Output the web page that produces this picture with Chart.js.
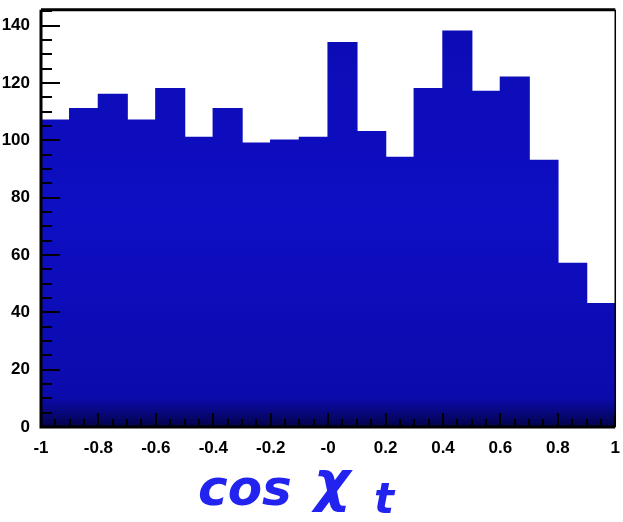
<!DOCTYPE html>
<html>
<head>
    <meta charset="UTF-8">
    <script src="https://cdn.jsdelivr.net/npm/chart.js"></script>
    <style>
        html, body { margin: 0; padding: 0; background: #fff; }
        .chart-container { width: 623px; height: 522px; }
    </style>
</head>
<body>
    <div class="chart-container">
        <canvas id="histChart"></canvas>
    </div>

    <script>
        // 20 bins of cos(chi_t), width 0.1, from -1 to 1
        const binLabels = ['-0.95', '-0.85', '-0.75', '-0.65', '-0.55', '-0.45', '-0.35', '-0.25', '-0.15', '-0.05',
                           '0.05', '0.15', '0.25', '0.35', '0.45', '0.55', '0.65', '0.75', '0.85', '0.95'];
        const binCounts = [107, 111, 116, 107, 118, 101, 111, 99, 100, 101,
                           134, 103, 94, 118, 138, 117, 122, 93, 57, 43];
        const xTickLabels = ['-1', '-0.8', '-0.6', '-0.4', '-0.2', '-0', '0.2', '0.4', '0.6', '0.8', '1'];
        const yTickLabels = ['0', '20', '40', '60', '80', '100', '120', '140'];

        // ROOT style ticks drawn inward over the bars, plus the frame and axis title
        const framePlugin = {
            id: 'frame',
            afterDatasetsDraw(chart) {
                const ctx = chart.ctx;
                const a = chart.chartArea;
                const xs = chart.scales.xAxis, ys = chart.scales.y;
                ctx.save();
                ctx.strokeStyle = '#000';
                ctx.lineWidth = 2;
                xs.ticks.forEach(t => {
                    const k = Math.round(t.value * 20);
                    const len = (k % 4 === 0) ? 14 : 8;
                    const px = Math.round(xs.getPixelForValue(t.value));
                    ctx.beginPath();
                    ctx.moveTo(px, a.bottom);
                    ctx.lineTo(px, a.bottom - len);
                    ctx.stroke();
                });
                ys.ticks.forEach(t => {
                    const len = (Math.round(t.value) % 20 === 0) ? 19 : 11;
                    const py = Math.round(ys.getPixelForValue(t.value));
                    ctx.beginPath();
                    ctx.moveTo(a.left, py);
                    ctx.lineTo(a.left + len, py);
                    ctx.stroke();
                });
                // frame
                ctx.lineWidth = 3;
                ctx.beginPath();
                ctx.moveTo(a.left, a.top);
                ctx.lineTo(a.right, a.top);
                ctx.moveTo(a.left, a.top);
                ctx.lineTo(a.left, a.bottom);
                ctx.lineTo(a.right, a.bottom);
                ctx.stroke();
                ctx.lineWidth = 1.5;
                ctx.beginPath();
                ctx.moveTo(a.right, a.top);
                ctx.lineTo(a.right, a.bottom);
                ctx.stroke();

                // axis title "cos χt"
                ctx.fillStyle = '#2323f0';
                ctx.textBaseline = 'alphabetic';
                ctx.textAlign = 'left';
                ctx.font = 'italic bold 50px "DejaVu Sans"';
                ctx.fillText('cos', 198, 505);
                ctx.font = 'italic bold 56px "DejaVu Sans"';
                ctx.fillText('χ', 314, 500);
                ctx.font = 'italic bold 42px "DejaVu Sans"';
                ctx.fillText('t', 374, 513);
                ctx.restore();
            }
        };

        const ctx = document.getElementById('histChart').getContext('2d');
        new Chart(ctx, {
            type: 'bar',
            data: {
                labels: binLabels,
                datasets: [{
                    label: 'cos chi_t',
                    data: binCounts,
                    xAxisID: 'x',
                    backgroundColor: function(context) {
                        const area = context.chart.chartArea;
                        if (!area) return '#0d0dbd';
                        const g = context.chart.ctx.createLinearGradient(0, area.top, 0, area.bottom);
                        g.addColorStop(0, '#0c0cb4');
                        g.addColorStop(0.5, '#0e0ec4');
                        g.addColorStop(0.93, '#0b0bac');
                        g.addColorStop(1, '#03034a');
                        return g;
                    },
                    borderWidth: 0,
                    inflateAmount: 0.7,
                    barPercentage: 1.0,
                    categoryPercentage: 1.0
                }]
            },
            options: {
                responsive: true,
                maintainAspectRatio: false,
                animation: false,
                layout: { padding: { top: 0, right: 2, left: 0, bottom: 0 } },
                plugins: {
                    legend: { display: false },
                    tooltip: { enabled: false }
                },
                scales: {
                    x: {
                        type: 'category',
                        display: false,
                        offset: true
                    },
                    xAxis: {
                        type: 'linear',
                        position: 'bottom',
                        min: -1,
                        max: 1,
                        offset: false,
                        border: { display: false },
                        grid: { display: false },
                        afterFit(scale) { scale.height = 95; },
                        afterBuildTicks(scale) {
                            const t = [];
                            for (let k = -20; k <= 20; k++) t.push({ value: k / 20 });
                            scale.ticks = t;
                        },
                        ticks: {
                            autoSkip: false,
                            maxRotation: 0,
                            padding: 3,
                            color: '#000',
                            font: { family: 'Liberation Sans', size: 17, weight: 'bold' },
                            callback: function(value) {
                                const k = Math.round(value * 20);
                                return (k % 4 === 0) ? xTickLabels[(k + 20) / 4] : '';
                            }
                        }
                    },
                    y: {
                        min: 0,
                        max: 145.5,
                        border: { display: false },
                        grid: { display: false },
                        afterFit(scale) { scale.width = 41; },
                        afterBuildTicks(scale) {
                            const t = [];
                            for (let v = 0; v <= 145; v += 5) t.push({ value: v });
                            scale.ticks = t;
                        },
                        ticks: {
                            autoSkip: false,
                            padding: 3,
                            color: '#000',
                            font: { family: 'Liberation Sans', size: 17, weight: 'bold', lineHeight: 0.8 },
                            callback: function(value) {
                                const v = Math.round(value);
                                return (v % 20 === 0) ? yTickLabels[v / 20] : '';
                            }
                        }
                    }
                }
            },
            plugins: [framePlugin]
        });
    </script>
</body>
</html>
